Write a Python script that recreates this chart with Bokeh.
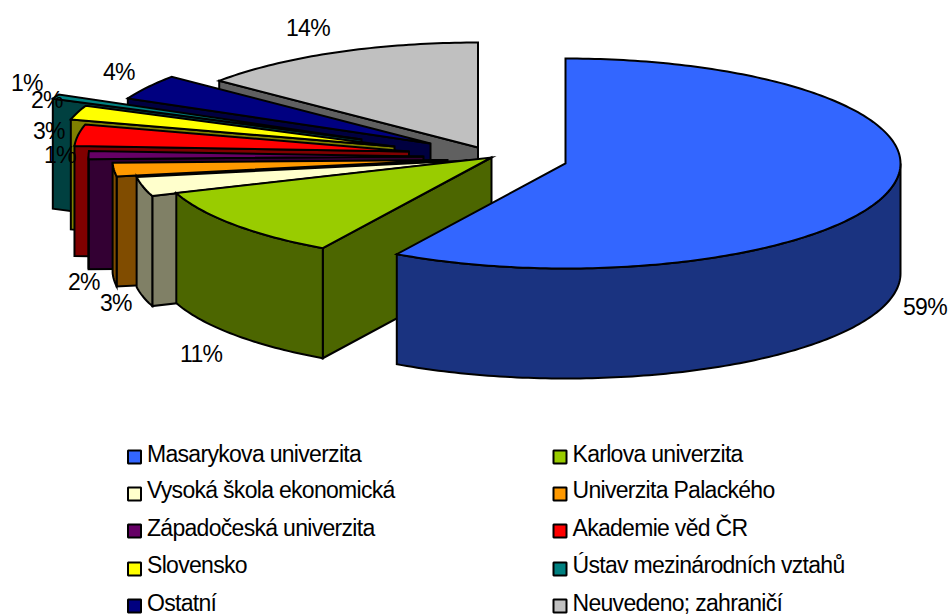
import math
from bokeh.plotting import figure
from bokeh.models import ColumnDataSource
from bokeh.core.properties import value
from bokeh.embed import file_html
from bokeh.resources import INLINE

# ---- data -------------------------------------------------------------
categories = ["Masarykova univerzita", "Karlova univerzita", "Vysoká škola ekonomická",
              "Univerzita Palackého", "Západočeská univerzita", "Akademie věd ČR",
              "Slovensko", "Ústav mezinárodních vztahů", "Ostatní", "Neuvedeno; zahraničí"]
shares = [58.4, 11.1, 3.0, 2.1, 1.25, 3.3, 2.2, 0.7, 3.9, 14.05]
share_labels = ["59%", "11%", "3%", "2%", "1%", "3%", "2%", "1%", "4%", "14%"]
colors = ["#3366FF", "#99CC00", "#FFFFCC", "#FF9900", "#660066",
          "#FF0000", "#FFFF00", "#008080", "#000080", "#C0C0C0"]

# ---- layout -----------------------------------------------------------
W, H = 949, 614
RX, RY, DEPTH = 335, 105, 110
apex_x = [565, 491, 467, 447, 423, 408.5, 394, 361, 430, 477.5]
apex_y = [163, 157, 160, 159.5, 156, 151, 146, 139, 143, 147]
label_x = [902.5, 179.5, 99.5, 67.5, 43.5, 32.5, 30.5, 10.5, 102.5, 285.5]
label_y = [315, 362, 311, 290, 163, 139, 108, 91, 80, 36]
legend_col_x = [127, 552.5]
legend_row_y = [456.5, 493.5, 530.5, 568.5, 605.5]
legend_base_y = [462, 498.5, 536, 573, 611]
TEXT_SHIFT = -9
FONT = "Liberation Sans"
FS = "23px"
LW = 2.0


def darker(c):
    return "#" + "".join("%02X" % round(int(c[i:i + 2], 16) / 2) for i in (1, 3, 5))


def pt(ax, ay, deg, dz=0):
    a = math.radians(deg)
    return ax + RX * math.sin(a), ay - RY * math.cos(a) + dz


def arc(ax, ay, a0, a1, dz=0):
    n = max(2, int(abs(a1 - a0)) + 2)
    pts = [pt(ax, ay, a0 + (a1 - a0) * i / (n - 1), dz) for i in range(n)]
    return [q[0] for q in pts], [q[1] for q in pts]


total = sum(shares)
edges = [0.0]
for s in shares:
    edges.append(edges[-1] + s / total * 360)

xs, ys, fills = [], [], []
for i in reversed(range(len(shares))):          # painter's order: back to front
    ax, ay, a0, a1, c = apex_x[i], apex_y[i], edges[i], edges[i + 1], colors[i]
    d = darker(c)
    if a0 > 0:                                  # radial cut facing the viewer
        sx, sy = pt(ax, ay, a0)
        xs.append([sx, ax, ax, sx])
        ys.append([sy, ay, ay + DEPTH, sy + DEPTH])
        fills.append(d)
    lo, hi = max(a0, 90), min(a1, 270)
    if hi > lo:                                 # outer wall
        tx, ty = arc(ax, ay, lo, hi)
        bx, by = arc(ax, ay, hi, lo, DEPTH)
        xs.append(tx + bx)
        ys.append(ty + by)
        fills.append(d)
    tx, ty = arc(ax, ay, a0, a1)                # top face
    xs.append([ax] + tx)
    ys.append([ay] + ty)
    fills.append(c)

p = figure(width=W, height=H, x_range=(0, W), y_range=(H, 0),
           output_backend="svg", toolbar_location=None, min_border=0,
           styles={"letter-spacing": "-0.7px"})
p.axis.visible = False
p.grid.visible = False
p.outline_line_color = None
p.background_fill_color = "#FFFFFF"
p.border_fill_color = "#FFFFFF"

p.patches("xs", "ys", source=ColumnDataSource(dict(xs=xs, ys=ys, fill=fills)),
          fill_color="fill", line_color="#000000", line_width=LW, line_join="miter")

p.text(label_x, label_y, text=share_labels, text_font=value(FONT), text_font_size=FS,
       text_color="#000000", text_align="left", text_baseline="alphabetic",
       y_offset=TEXT_SHIFT)

swx, swy, swc, tx_, ty_, tt = [], [], [], [], [], []
for i, name in enumerate(categories):
    col, row = i % 2, i // 2
    swx.append(legend_col_x[col] + 7)
    swy.append(legend_row_y[row])
    swc.append(colors[i])
    tx_.append(legend_col_x[col] + 19.5)
    ty_.append(legend_base_y[row])
    tt.append(name)
p.rect(swx, swy, width=13, height=13, fill_color=swc, line_color="#000000", line_width=LW)
p.text(tx_, ty_, text=tt, text_font=value(FONT), text_font_size=FS, text_color="#000000",
       text_align="left", text_baseline="alphabetic", y_offset=TEXT_SHIFT)

open("out.html", "w").write(file_html(p, INLINE))
